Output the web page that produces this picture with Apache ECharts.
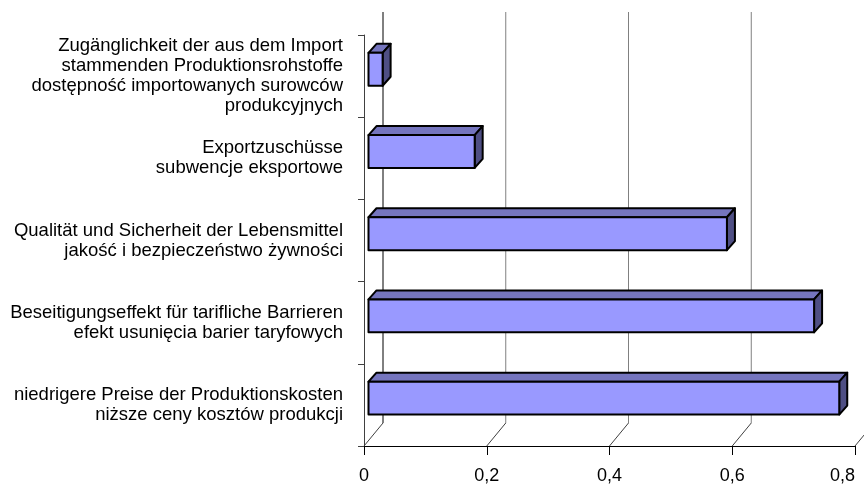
<!DOCTYPE html>
<html>
<head>
<meta charset="utf-8">
<script src="https://cdn.jsdelivr.net/npm/echarts@6/dist/echarts.min.js"></script>
<style>
  html, body { margin: 0; padding: 0; background: #ffffff; }
  #chart { width: 864px; height: 485px; }
</style>
</head>
<body>
<div id="chart"></div>
<script>
// Categories, top to bottom
const categories = [
  'Zugänglichkeit der aus dem Import\nstammenden Produktionsrohstoffe\ndostępność importowanych surowców\nprodukcyjnych',
  'Exportzuschüsse\nsubwencje eksportowe',
  'Qualität und Sicherheit der Lebensmittel\njakość i bezpieczeństwo żywności',
  'Beseitigungseffekt für tarifliche Barrieren\nefekt usunięcia barier taryfowych',
  'niedrigere Preise der Produktionskosten\nniższe ceny kosztów produkcji'
];
const values = [0.023, 0.173, 0.584, 0.726, 0.767];
const valueTicks = [0, 0.2, 0.4, 0.6, 0.8];
const tickLabels = ['0', '0,2', '0,4', '0,6', '0,8'];

// Oblique projection of the chart depth (back wall offset, in px)
const DEPTH_X = 19, DEPTH_Y = -23;
// Bar placement inside the depth and its own thickness
const BAR_SHIFT_X = 4.5, BAR_SHIFT_Y = -6.8, BAR_DX = 8, BAR_DY = -9;

const FONT = "'Liberation Sans', Arial, sans-serif";

const chart = echarts.init(document.getElementById('chart'), null, { renderer: 'canvas' });

function plotEdges(api) {
  const band = api.size([0, 1])[1];
  const top = api.coord([0, 0])[1] - band / 2;
  const bottom = api.coord([0, categories.length - 1])[1] + band / 2;
  return { band, top, bottom };
}

// Back-wall gridlines and floor diagonals
function renderFrame(params, api) {
  const v = api.value(0);
  const x = api.coord([v, 0])[0];
  const e = plotEdges(api);
  const color = v === 0 ? '#000000' : '#808080';
  return {
    type: 'group',
    children: [
      {
        type: 'line',
        shape: { x1: x + DEPTH_X, y1: e.top + DEPTH_Y, x2: x + DEPTH_X, y2: e.bottom + DEPTH_Y },
        style: { stroke: color, lineWidth: 1 }
      },
      {
        type: 'line',
        shape: { x1: x + DEPTH_X, y1: e.bottom + DEPTH_Y, x2: x, y2: e.bottom },
        style: { stroke: '#404040', lineWidth: 1 }
      }
    ]
  };
}

// 3D box bars: front, top and right faces
function renderBar(params, api) {
  const v = api.value(0);
  const idx = api.value(1);
  const p0 = api.coord([0, idx]);
  const p1 = api.coord([v, idx]);
  const band = api.size([0, 1])[1];
  const h = band * 0.4;
  const L = p0[0] + BAR_SHIFT_X;
  const R = p1[0] + BAR_SHIFT_X;
  const cy = p0[1] + BAR_SHIFT_Y;
  const T = cy - h / 2;
  const B = cy + h / 2;
  const stroke = { stroke: '#000000', lineWidth: 2, lineJoin: 'round' };
  return {
    type: 'group',
    children: [
      {
        type: 'polygon',
        shape: { points: [[L, T], [R, T], [R + BAR_DX, T + BAR_DY], [L + BAR_DX, T + BAR_DY]] },
        style: Object.assign({ fill: '#7575BE' }, stroke)
      },
      {
        type: 'polygon',
        shape: { points: [[R, T], [R + BAR_DX, T + BAR_DY], [R + BAR_DX, B + BAR_DY], [R, B]] },
        style: Object.assign({ fill: '#4F4F84' }, stroke)
      },
      {
        type: 'rect',
        shape: { x: L, y: T, width: R - L, height: B - T },
        style: Object.assign({ fill: '#9999FF' }, stroke)
      }
    ]
  };
}

chart.setOption({
  backgroundColor: '#ffffff',
  animation: false,
  grid: { left: 364, right: 9, top: 35, bottom: 37, containLabel: false },
  xAxis: {
    type: 'value',
    min: 0,
    max: 0.8,
    interval: 0.2,
    axisLine: { show: true, lineStyle: { color: '#000000', width: 1 } },
    axisTick: { show: true, length: 9, lineStyle: { color: '#000000' } },
    splitLine: { show: false },
    axisLabel: {
      color: '#000000',
      fontFamily: FONT,
      fontSize: 18,
      margin: 21,
      alignMaxLabel: 'right',
      formatter: function (v) {
        const i = valueTicks.findIndex(t => Math.abs(t - v) < 1e-9);
        return i >= 0 ? tickLabels[i] : '';
      }
    }
  },
  yAxis: {
    type: 'category',
    data: categories,
    inverse: true,
    axisLine: { show: true, lineStyle: { color: '#404040', width: 1 } },
    axisTick: { show: true, length: 6, lineStyle: { color: '#404040' } },
    splitLine: { show: false },
    axisLabel: {
      color: '#000000',
      fontFamily: FONT,
      fontSize: 18.5,
      lineHeight: 20,
      margin: 21,
      align: 'right'
    }
  },
  series: [
    {
      type: 'custom',
      name: 'frame',
      z: 1,
      silent: true,
      renderItem: renderFrame,
      encode: { x: 0, y: 1 },
      data: valueTicks.map(v => [v, 0])
    },
    {
      type: 'custom',
      name: 'bars',
      z: 3,
      renderItem: renderBar,
      encode: { x: 0, y: 1 },
      data: values.map((v, i) => [v, i])
    }
  ]
});
</script>
</body>
</html>
